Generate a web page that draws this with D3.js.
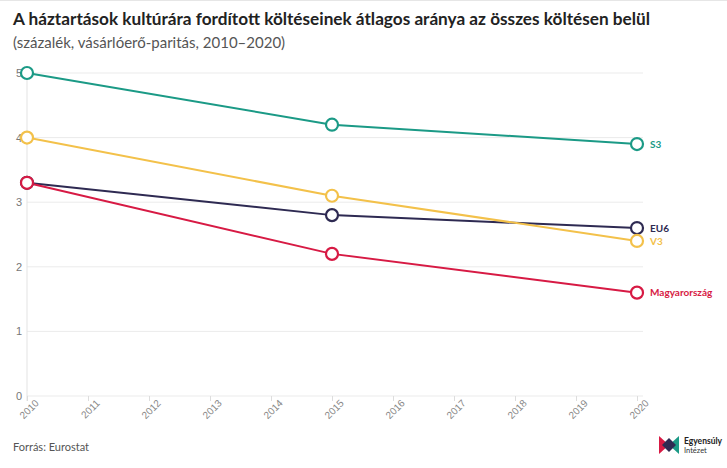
<!DOCTYPE html>
<html><head><meta charset="utf-8">
<script src="https://cdn.jsdelivr.net/npm/d3@7"></script>
<style>
body{margin:0;background:#fff;}
svg{display:block;font-family:"Source Sans Pro","Lato","Open Sans",sans-serif;}
</style></head><body>
<svg id="c" width="727" height="468"></svg>
<script>
const years = [2010,2015,2020];
const tickYears = [2010,2011,2012,2013,2014,2015,2016,2017,2018,2019,2020];
const yTicks = [0,1,2,3,4,5];
const seriesNames = ["S3","V3","EU6","Magyarország"];
const seriesColors = ["#1b9a86","#f3c14a","#2e2a52","#d71a44"];
const valuesS3 = [5.0,4.2,3.9];
const valuesV3 = [4.0,3.1,2.4];
const valuesEU6 = [3.3,2.8,2.6];
const valuesHU = [3.3,2.2,1.6];
const labelDy = [0,1,0,0];

const series = [valuesS3,valuesV3,valuesEU6,valuesHU].map((v,i)=>({name:seriesNames[i],color:seriesColors[i],values:v,dy:labelDy[i]}));

const svg = d3.select("#c");
svg.append("line").attr("x1",0).attr("x2",727).attr("y1",0.5).attr("y2",0.5).attr("stroke","#e6e6e6");

svg.append("text").attr("x",13).attr("y",25).attr("font-size",17.2).attr("font-weight",700).attr("fill","#222")
  .text("A háztartások kultúrára fordított költéseinek átlagos aránya az összes költésen belül");
svg.append("text").attr("x",13).attr("y",48).attr("font-size",15).attr("fill","#555")
  .text("(százalék, vásárlóerő-paritás, 2010–2020)");

const x = d3.scaleLinear().domain([2010,2020]).range([27,637]);
const y = d3.scaleLinear().domain([0,5]).range([396,73]);

// grid
const grid = svg.append("g");
grid.selectAll("line").data(yTicks).join("line")
  .attr("x1",27).attr("x2",643).attr("y1",d=>y(d)).attr("y2",d=>y(d))
  .attr("stroke","#ebebeb").attr("stroke-width",1);
grid.append("line").attr("x1",27).attr("x2",27).attr("y1",y(5)).attr("y2",y(0)+5).attr("stroke","#e3e3e3");

// y axis labels
const yAxis = svg.append("g").attr("transform","translate(27,0)")
  .call(d3.axisLeft(y).tickValues(yTicks).tickSize(0).tickPadding(5).tickFormat(d3.format("d")));
yAxis.select(".domain").remove();
yAxis.selectAll("text").attr("font-size",11).attr("fill","#777").attr("font-family","inherit");

// x axis
const xAxis = svg.append("g").attr("transform",`translate(0,${y(0)})`)
  .call(d3.axisBottom(x).tickValues(tickYears).tickSize(5).tickFormat(d3.format("d")));
xAxis.select(".domain").remove();
xAxis.selectAll("line").attr("stroke","#ddd");
xAxis.selectAll("text").attr("font-size",10).attr("fill","#888").attr("font-family","inherit")
  .attr("text-anchor","end").attr("dx","0.3em").attr("dy","0.6em")
  .attr("transform","rotate(-45)");

const line = d3.line().x((d,i)=>x(years[i])).y(d=>y(d));
const g = svg.append("g");
// draw order: EU6, V3, HU, S3
[2,1,3,0].forEach(i=>{
  const s = series[i];
  g.append("path").attr("d",line(s.values)).attr("fill","none").attr("stroke",s.color).attr("stroke-width",2);
});
[2,1,3,0].forEach(i=>{
  const s = series[i];
  g.selectAll(null).data(s.values).join("circle")
    .attr("cx",(d,j)=>x(years[j])).attr("cy",d=>y(d)).attr("r",6)
    .attr("fill","#fff").attr("stroke",s.color).attr("stroke-width",2.2);
  const last = s.values[s.values.length-1];
  g.append("text").attr("x",x(2020)+13).attr("y",y(last)+s.dy).attr("dy","0.35em")
    .attr("font-size",10).attr("font-weight",700).attr("fill",s.color).text(s.name);
});

svg.append("text").attr("x",13).attr("y",451).attr("font-size",11).attr("fill","#555").text("Forrás: Eurostat");

// logo
const lg = svg.append("g").attr("transform","translate(659,436)");
lg.append("path").attr("d","M0,0 L10,9 L0,18 Z").attr("fill","#d71a44");
lg.append("path").attr("d","M20,0 L10,9 L20,18 Z").attr("fill","#1b9a86");
lg.append("path").attr("d","M10,2 L17,9 L10,16 L3,9 Z").attr("fill","#2e2a52");
lg.append("text").attr("x",25).attr("y",8).attr("font-size",8.5).attr("font-weight",700).attr("fill","#222").text("Egyensúly");
lg.append("text").attr("x",25).attr("y",17).attr("font-size",7.5).attr("fill","#333").text("Intézet");
</script>
</body></html>
